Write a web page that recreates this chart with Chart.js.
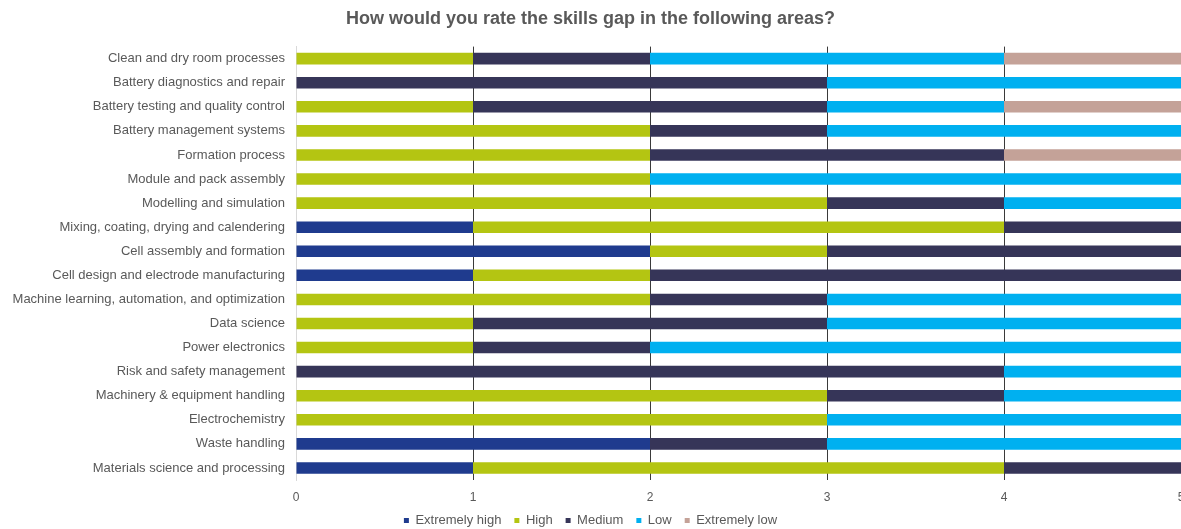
<!DOCTYPE html>
<html>
<head>
<meta charset="utf-8">
<script src="https://cdn.jsdelivr.net/npm/chart.js@4/dist/chart.umd.min.js"></script>
<style>
  html,body{margin:0;padding:0;background:#fff;}
  #wrap{width:1181px;height:529px;}
</style>
</head>
<body>
<div id="wrap"><canvas id="c" width="1181" height="529"></canvas></div>
<script>
// 技能缺口评分 — 每行五档响应数 (堆叠横条)
var categories = [
  'Clean and dry room processes',
  'Battery diagnostics and repair',
  'Battery testing and quality control',
  'Battery management systems',
  'Formation process',
  'Module and pack assembly',
  'Modelling and simulation',
  'Mixing, coating, drying and calendering',
  'Cell assembly and formation',
  'Cell design and electrode manufacturing',
  'Machine learning, automation, and optimization',
  'Data science',
  'Power electronics',
  'Risk and safety management',
  'Machinery & equipment handling',
  'Electrochemistry',
  'Waste handling',
  'Materials science and processing'
];
var extremelyHigh = [0,0,0,0,0,0,0,1,2,1,0,0,0,0,0,0,2,1];
var high          = [1,0,1,2,2,2,3,3,1,1,2,1,1,0,3,3,0,3];
var medium        = [1,3,2,1,2,0,1,1,2,3,1,2,1,4,1,0,1,1];
var low           = [2,2,1,2,0,3,1,0,0,0,2,2,3,1,1,2,2,0];
var extremelyLow  = [1,0,1,0,1,0,0,0,0,0,0,0,0,0,0,0,0,0];
var xTicks = [0,1,2,3,4,5];

var seriesNames = ['Extremely high','High','Medium','Low','Extremely low'];
var seriesData = [extremelyHigh, high, medium, low, extremelyLow];
var seriesColors = ['#1f3b8e','#b4c512','#363558','#00b0f0','#c4a298'];

var textGray = '#595959';
var fam = 'Liberation Sans, Arial, sans-serif';

new Chart(document.getElementById('c'), {
  type: 'bar',
  data: {
    labels: categories,
    datasets: seriesData.map(function(d, i){
      return {
        label: seriesNames[i],
        data: d,
        backgroundColor: seriesColors[i],
        borderWidth: 0,
        barPercentage: 0.48,
        categoryPercentage: 1
      };
    })
  },
  options: {
    indexAxis: 'y',
    responsive: false,
    animation: false,
    layout: {padding: {left: 0, right: 0, top: 0, bottom: -8}},
    plugins: {
      title: {
        display: true,
        text: 'How would you rate the skills gap in the following areas?',
        color: textGray,
        font: {family: fam, size: 18, weight: 'bold'},
        padding: {top: 8, bottom: 17}
      },
      legend: {
        position: 'bottom',
        labels: {
          boxWidth: 5, boxHeight: 5, padding: 13,
          color: textGray,
          font: {family: fam, size: 13}
        }
      },
      tooltip: {enabled: false}
    },
    scales: {
      x: {
        stacked: true,
        min: 0, max: 5,
        afterBuildTicks: function(s){ s.ticks = xTicks.map(function(v){return {value: v};}); },
        afterFit: function(s){ s.paddingRight = 0; s.height = 21; },
        grid: {
          color: function(ctx){ return ctx.tick && ctx.tick.value === 0 ? 'rgba(0,0,0,0)' : '#3a3a3a'; },
          lineWidth: 1,
          drawTicks: false
        },
        border: {display: false},
        ticks: {
          color: textGray, padding: 10,
          font: {family: fam, size: 12}
        }
      },
      y: {
        stacked: true,
        afterFit: function(s){ s.width = 296; },
        grid: {display: false, drawTicks: false},
        border: {display: true, color: '#d9d9d9', width: 1},
        ticks: {
          color: textGray, padding: 11,
          font: {family: fam, size: 13}
        }
      }
    }
  }
});
</script>
</body>
</html>
